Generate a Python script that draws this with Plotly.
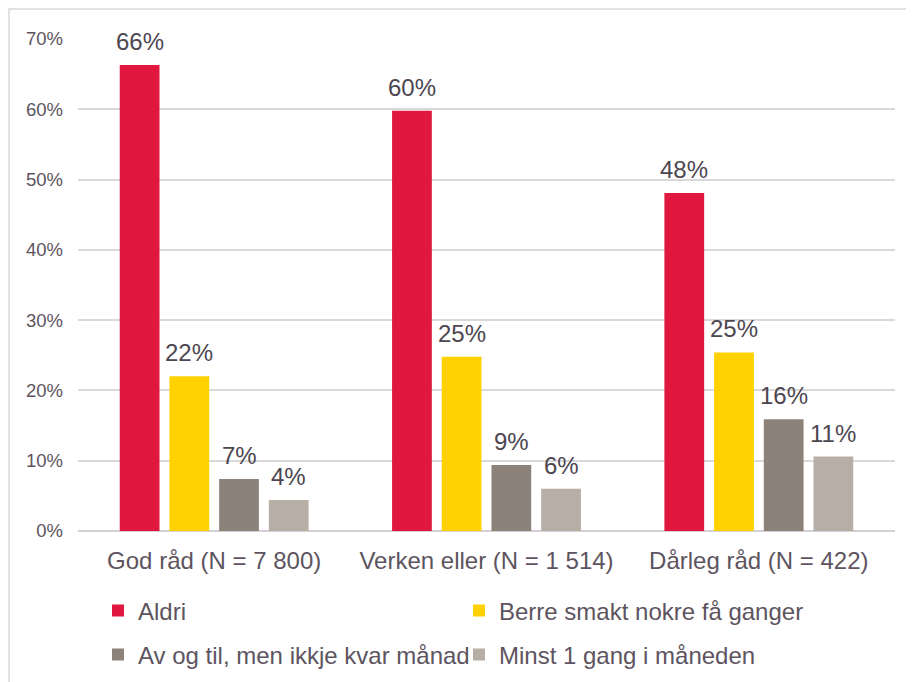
import plotly.graph_objects as go

categories = ["God råd (N = 7 800)", "Verken eller (N = 1 514)", "Dårleg råd (N = 422)"]
series_names = ["Aldri", "Berre smakt nokre få ganger", "Av og til, men ikkje kvar månad", "Minst 1 gang i måneden"]
aldri = [66.3, 59.8, 48.1]
berre = [22.0, 24.8, 25.4]
av_og_til = [7.4, 9.4, 15.9]
minst = [4.4, 6.0, 10.6]
colors = ["#E0173F", "#FFD100", "#8C8279", "#B7AFA5"]
legend_ids = ["legend", "legend", "legend2", "legend2"]
values = [aldri, berre, av_og_til, minst]

FONT = "Liberation Sans, Arial, sans-serif"
W, H = 914, 682
OFF = 8  # page body margin
ml, mt = 78 - OFF, 39 - OFF
mr, mb = W - (895 - OFF), H - (531 - OFF)
pw, ph = W - ml - mr, H - mt - mb
bargap, bargroupgap = 0.27, 0.2
slot = pw / len(categories) * (1 - bargap) / len(values)

fig = go.Figure()
annotations = []
for i, (name, vals, col, lg) in enumerate(zip(series_names, values, colors, legend_ids)):
    fig.add_trace(go.Bar(
        x=categories, y=vals, name=name, marker=dict(color=col, line=dict(width=0)),
        legend=lg, hovertemplate="%{x}<br>" + name + ": %{y}%<extra></extra>",
    ))
    for c, v in zip(categories, vals):
        annotations.append(dict(
            x=c, y=v, xref="x", yref="y", text=f"{round(v):d}%", showarrow=False,
            xanchor="center", yanchor="bottom", xshift=(i - (len(values) - 1) / 2) * slot,
            yshift=8, font=dict(size=24, color="#4D4650", family=FONT),
        ))

legend_common = dict(
    orientation="h", xanchor="left", yanchor="middle", xref="container", yref="container",
    font=dict(size=24, color="#5D5460", family=FONT),
    entrywidth=316, entrywidthmode="pixels", bgcolor="rgba(0,0,0,0)",
    itemclick=False, itemdoubleclick=False,
)

fig.update_layout(
    width=W, height=H,
    margin=dict(l=ml, r=mr, t=mt, b=mb, autoexpand=False),
    paper_bgcolor="white", plot_bgcolor="white",
    font=dict(family=FONT, color="#5D5460"),
    barmode="group", bargap=bargap, bargroupgap=bargroupgap,
    showlegend=True,
    legend=dict(x=90 / W, y=1 - 603 / H, **legend_common),
    legend2=dict(x=90 / W, y=1 - 647 / H, **legend_common),
    annotations=annotations,
    xaxis=dict(showgrid=False, showline=False, ticks="", tickfont=dict(size=24, color="#5D5460"),
               zeroline=False, automargin=False, ticklabelstandoff=13),
    yaxis=dict(range=[0, 70], dtick=10, ticksuffix="%", showgrid=True, gridcolor="#D9D9D9",
               gridwidth=1.5, zeroline=True, zerolinecolor="#D3D0D6", zerolinewidth=1.5,
               showline=False, tickfont=dict(size=18.5, color="#5D5460"), ticks="", ticklen=0,
               ticklabelstandoff=14, automargin=False),
    shapes=[dict(type="rect", xref="paper", yref="paper",
                 x0=(1 - ml) / pw, x1=(930 - ml) / pw, y0=(H - mb - 700) / ph, y1=(H - mb - 1) / ph,
                 line=dict(color="#D9D9D9", width=1.5), fillcolor="rgba(0,0,0,0)", layer="below")],
)

fig.write_html("out.html")
